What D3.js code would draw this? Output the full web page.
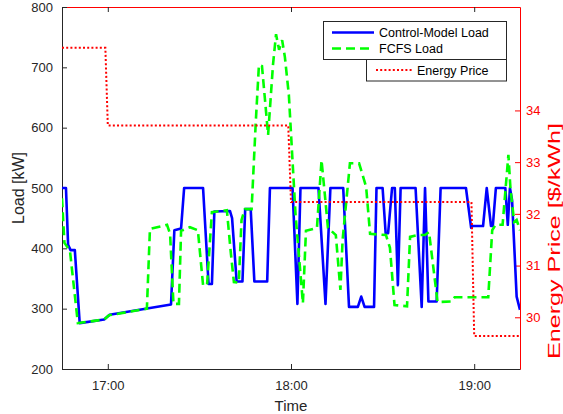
<!DOCTYPE html>
<html>
<head>
<meta charset="utf-8">
<script src="https://cdn.jsdelivr.net/npm/d3@7"></script>
<style>
  body { margin: 0; background: #fff; }
  text { font-family: "Liberation Sans", Arial, Helvetica, sans-serif; }
</style>
</head>
<body>
<div id="chart"></div>
<script>
// times are minutes after 16:00
var blueTime = [45.0, 46.3, 47.0, 47.8, 49.2, 50.8, 58.8, 60.6, 80.7, 81.8,
    84.0, 85.0, 91.2, 93.0, 94.1, 94.9, 100.0, 100.7, 102.2, 104.1,
    105.0, 106.8, 108.0, 112.2, 113.1, 120.5, 122.1, 123.1, 129.0, 131.3,
    132.9, 137.1, 139.0, 141.9, 143.0, 144.1, 147.2, 148.0, 150.0, 151.0,
    151.8, 153.1, 154.0, 155.0, 155.9, 160.8, 162.8, 163.9, 165.0, 167.7,
    169.0, 177.3, 179.0, 179.5, 182.9, 184.1, 185.5, 186.1, 187.1, 190.2,
    191.0, 191.7, 192.4, 193.9, 195.0];
var blueLoad = [500, 500, 406, 397, 397, 276, 282, 290, 307, 430,
    433, 500, 500, 341, 341, 461, 462, 450, 345, 345,
    465, 465, 345, 345, 500, 500, 308, 500, 500, 308,
    500, 500, 303, 303, 320, 303, 303, 500, 500, 425,
    425, 500, 500, 339, 500, 500, 303, 500, 312, 312,
    500, 500, 434, 437, 437, 500, 437, 437, 500, 500,
    439, 500, 480, 320, 298];

var greenTime = [45.0, 45.8, 47.6, 50.2, 58.8, 60.4, 72.8, 73.8, 79.4, 80.4,
    81.5, 83.3, 84.0, 86.9, 89.5, 91.2, 92.5, 94.1, 99.0, 100.3,
    101.3, 102.9, 103.8, 104.9, 107.1, 108.5, 109.5, 110.5, 112.5, 114.1,
    115.1, 116.1, 117.1, 118.0, 119.3, 120.3, 121.5, 123.9, 124.9, 128.5,
    130.0, 131.1, 132.1, 134.7, 136.2, 136.9, 139.3, 142.3, 144.6, 145.9,
    151.1, 152.4, 153.9, 158.0, 159.0, 161.6, 163.9, 165.2, 168.0, 172.6,
    173.6, 184.6, 185.9, 187.0, 189.3, 191.2, 191.9, 193.1, 193.9, 195.0];
var greenLoad = [483, 409, 396, 276, 282, 289, 300, 432, 439, 424,
    308, 308, 429, 435, 430, 339, 339, 460, 463, 392,
    344, 343, 447, 465, 465, 613, 704, 702, 588, 704,
    755, 729, 745, 717, 654, 563, 455, 309, 429, 434,
    546, 488, 434, 422, 331, 414, 541, 541, 502, 424,
    422, 401, 306, 304, 419, 422, 422, 427, 311, 312,
    319, 319, 430, 439, 439, 555, 497, 444, 447, 430];

var priceTime = [45, 59.2, 60, 119.1, 120, 179.1, 180, 195];
var priceValue = [35.21, 35.21, 33.71, 33.71, 32.23, 32.23, 29.64, 29.64];

var loadTicks = [200, 300, 400, 500, 600, 700, 800];
var priceTicks = [30, 31, 32, 33, 34];
var legendNames = ["Control-Model Load", "FCFS Load", "Energy Price"];

var W = 563, H = 414;
var margin = {top: 7, right: 43, bottom: 45, left: 62};
var pw = W - margin.left - margin.right,
    ph = H - margin.top - margin.bottom;
var axisColor = "#262626";

function toDate(m) { return new Date(2000, 0, 1, 16, m); }
function toDateF(m) { return new Date(2000, 0, 1, 16, 0, m * 60); }

var x = d3.scaleTime().domain([toDate(45), toDate(195)]).range([0, pw]);
var y = d3.scaleLinear().domain([200, 800]).range([ph, 0]);
var y2 = d3.scaleLinear().domain([29, 36]).range([ph, 0]);

var svg = d3.select("#chart").append("svg")
    .attr("width", W).attr("height", H);
var g = svg.append("g")
    .attr("transform", "translate(" + margin.left + "," + margin.top + ")");

g.append("clipPath").attr("id", "clip")
  .append("rect").attr("width", pw).attr("height", ph);

// axes
var xAxis = g.append("g").attr("transform", "translate(0," + ph + ")")
    .call(d3.axisBottom(x)
        .tickValues([toDate(60), toDate(120), toDate(180)])
        .tickFormat(d3.timeFormat("%H:%M"))
        .tickSizeInner(-5).tickSizeOuter(0).tickPadding(12));
var xTop = g.append("g")
    .call(d3.axisTop(x)
        .tickValues([toDate(60), toDate(120), toDate(180)])
        .tickFormat("").tickSizeInner(-5).tickSizeOuter(0));
var yAxis = g.append("g")
    .call(d3.axisLeft(y).tickValues(loadTicks)
        .tickSizeInner(-5).tickSizeOuter(0).tickPadding(9));
var yAxis2 = g.append("g").attr("transform", "translate(" + pw + ",0)")
    .call(d3.axisRight(y2).tickValues(priceTicks).tickFormat(d3.format("d"))
        .tickSizeInner(-5).tickSizeOuter(0).tickPadding(6));

[xAxis, yAxis].forEach(function(a) {
    a.select(".domain").attr("stroke", axisColor);
    a.selectAll(".tick line").attr("stroke", axisColor);
    a.selectAll(".tick text").attr("fill", axisColor).attr("font-size", 13);
});
xTop.select(".domain").attr("stroke", "#ff0000");
xTop.selectAll(".tick line").attr("stroke", axisColor);
yAxis2.select(".domain").attr("stroke", "#ff0000");
yAxis2.selectAll(".tick line").attr("stroke", "#ff0000");
yAxis2.selectAll(".tick text").attr("fill", "#ff0000").attr("font-size", 13);

// axis labels
g.append("text").attr("x", pw / 2).attr("y", ph + 42)
    .attr("text-anchor", "middle").attr("font-size", 15)
    .attr("fill", axisColor).text("Time");
svg.append("text")
    .attr("transform", "translate(24," + (margin.top + ph / 2) + ") rotate(-90)")
    .attr("text-anchor", "middle").attr("font-size", 16)
    .attr("fill", axisColor).text("Load [kW]");
// right label is drawn long and narrow, as in the reference
svg.append("text")
    .attr("transform", "translate(560,241) rotate(-90)")
    .attr("text-anchor", "middle").attr("font-size", 16)
    .attr("textLength", 236).attr("lengthAdjust", "spacingAndGlyphs")
    .attr("fill", "#ff0000").text("Energy Price [$/kWh]");

// series
var plot = g.append("g").attr("clip-path", "url(#clip)");
var loadLine = d3.line()
    .x(function(d) { return x(toDateF(d[0])); })
    .y(function(d) { return y(d[1]); });
var priceLine = d3.line()
    .x(function(d) { return x(toDateF(d[0])); })
    .y(function(d) { return y2(d[1]); });

plot.append("path")
    .datum(d3.zip(blueTime, blueLoad))
    .attr("d", loadLine)
    .attr("fill", "none").attr("stroke", "#0000ff")
    .attr("stroke-width", 2.6).attr("stroke-linejoin", "round");
plot.append("path")
    .datum(d3.zip(greenTime, greenLoad))
    .attr("d", loadLine)
    .attr("fill", "none").attr("stroke", "#00ff00")
    .attr("stroke-width", 2.6).attr("stroke-dasharray", "9,5");
plot.append("path")
    .datum(d3.zip(priceTime, priceValue))
    .attr("d", priceLine)
    .attr("fill", "none").attr("stroke", "#ff0000")
    .attr("stroke-width", 2).attr("stroke-dasharray", "2,2.2");

// legend
var leg = svg.append("g");
leg.append("rect").attr("x", 323.5).attr("y", 21.5).attr("width", 183).attr("height", 38)
    .attr("fill", "#fff").attr("stroke", axisColor).attr("stroke-width", 1);
leg.append("rect").attr("x", 366.5).attr("y", 59.5).attr("width", 140).attr("height", 21.5)
    .attr("fill", "#fff").attr("stroke", axisColor).attr("stroke-width", 1);

var legItems = [
    {x1: 332, x2: 374, y: 32.5, tx: 379, color: "#0000ff", dash: null, w: 2.6},
    {x1: 332, x2: 374, y: 48.5, tx: 379, color: "#00ff00", dash: "9,5", w: 2.6},
    {x1: 376, x2: 412, y: 70, tx: 417, color: "#ff0000", dash: "2,2.2", w: 2}
];
legItems.forEach(function(it, i) {
    leg.append("line").attr("x1", it.x1).attr("x2", it.x2)
        .attr("y1", it.y).attr("y2", it.y)
        .attr("stroke", it.color).attr("stroke-width", it.w)
        .attr("stroke-dasharray", it.dash);
    leg.append("text").attr("x", it.tx).attr("y", it.y + 4.5)
        .attr("font-size", 12.5).attr("fill", "#000")
        .text(legendNames[i]);
});
</script>
</body>
</html>
